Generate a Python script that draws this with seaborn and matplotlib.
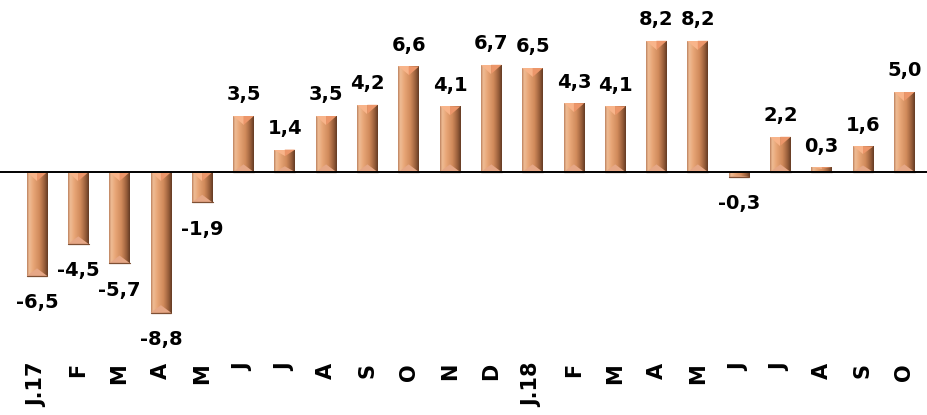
import numpy as np
import pandas as pd
import matplotlib
matplotlib.use("Agg")
import matplotlib.pyplot as plt
import seaborn as sns
from matplotlib.colors import LinearSegmentedColormap
from matplotlib.patches import Polygon

# Monthly year-on-year change, Jan 2017 - Oct 2018 (%)
months = ["J.17", "F", "M", "A", "M", "J", "J", "A", "S", "O", "N", "D",
          "J.18", "F", "M", "A", "M", "J", "J", "A", "S", "O"]
values = [-6.5, -4.5, -5.7, -8.8, -1.9, 3.5, 1.4, 3.5, 4.2, 6.6, 4.1, 6.7,
          6.5, 4.3, 4.1, 8.2, 8.2, -0.3, 2.2, 0.3, 1.6, 5.0]

sns.set_style("white")
plt.rcParams["font.family"] = ["DejaVu Sans"]

W, H = 927, 415
fig = plt.figure(figsize=(W / 100, H / 100), dpi=100)
axes_bottom_px = 340
ax = fig.add_axes([0, 1 - axes_bottom_px / H, 1, axes_bottom_px / H])

df = pd.DataFrame({"pos": np.arange(len(values)), "value": values})
sns.barplot(data=df, x="pos", y="value", color="#D4956B", width=0.5,
            saturation=1, errorbar=None, ax=ax, zorder=2)
bars = list(ax.patches)

# scale: 41.3 px per category, 16 px per unit
px_x, px_y = 41.3, 16.0
zero_px = 172

# copper bevel shading across each bar face
face = LinearSegmentedColormap.from_list(
    "copper_face",
    [(0.0, "#BE8360"), (0.10, "#EFBC95"), (0.30, "#E8A677"),
     (0.60, "#D08A5B"), (0.84, "#9A5F3B"), (1.0, "#643B24")])
grad = np.linspace(0, 1, 64).reshape(1, -1)

for p in bars:
    x0, y0, w, h = p.get_x(), p.get_y(), p.get_width(), p.get_height()
    ylo, yhi = min(y0, y0 + h), max(y0, y0 + h)
    p.set_edgecolor("none")
    im = ax.imshow(grad, cmap=face, extent=(x0, x0 + w, ylo, yhi),
                   aspect="auto", interpolation="bilinear", zorder=2.5)
    im.set_clip_path(p)
    xc = x0 + w / 2
    dv = min(9 / px_y, (yhi - ylo) * 0.3)
    # top facet
    ax.add_patch(Polygon([(x0, yhi), (xc, yhi), (xc, yhi - dv)],
                         closed=True, facecolor="#F8B48A", edgecolor="none", zorder=3))
    ax.add_patch(Polygon([(xc, yhi), (x0 + w, yhi), (xc, yhi - dv)],
                         closed=True, facecolor="#EC966A", edgecolor="none", zorder=3))
    # bottom facet
    ax.add_patch(Polygon([(x0, ylo), (x0 + w, ylo), (xc, ylo + dv * 0.85)],
                         closed=True, facecolor="#E6A786", edgecolor="none", zorder=3))
    ax.plot([x0, x0 + w], [ylo, ylo], color="#7E4F33", lw=0.9, zorder=3.2)

ax.set_xlim(-37 / px_x, (W - 37) / px_x)
ax.set_ylim(-(axes_bottom_px - zero_px) / px_y, zero_px / px_y)

ax.axhline(0, color="black", lw=1.4, zorder=4)

for i, v in enumerate(values):
    txt = f"{v:.1f}".replace(".", ",")
    if v >= 0:
        ax.annotate(txt, xy=(i, v), xytext=(0, 11.2), textcoords="offset points",
                    ha="center", va="baseline", fontsize=14, fontweight="bold",
                    color="black")
    else:
        ax.annotate(txt, xy=(i, v), xytext=(0, -12.5), textcoords="offset points",
                    ha="center", va="top", fontsize=14, fontweight="bold",
                    color="black")

ax.set_xticks(range(len(months)))
ax.set_xticklabels(months, rotation=90, fontsize=15, fontweight="bold",
                   color="black")
ax.tick_params(axis="x", length=0, pad=16.5, colors="black")
ax.set_yticks([])
ax.set_xlabel("")
ax.set_ylabel("")
for s in ax.spines.values():
    s.set_visible(False)

fig.savefig("out.png", dpi=100)
